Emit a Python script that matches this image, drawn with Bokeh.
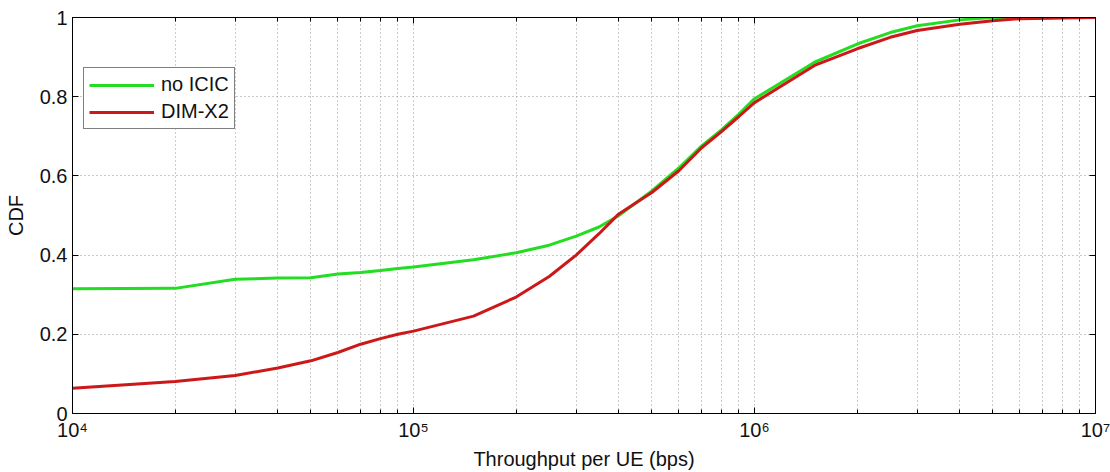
from bokeh.plotting import figure
from bokeh.models import (Range1d, FixedTicker, LinearAxis, LogAxis, Legend, LegendItem,
                          PrintfTickFormatter)
from bokeh.embed import file_html
from bokeh.resources import INLINE

# ---- data ----
noicic_x = [1e4, 2e4, 3e4, 4e4, 5e4, 6e4, 7e4, 8e4, 9e4, 1e5, 1.5e5, 2e5, 2.5e5, 3e5,
            3.5e5, 4e5, 5e5, 6e5, 7e5, 8e5, 9e5, 1e6, 1.5e6, 2e6, 2.5e6, 3e6, 4e6, 5e6, 1e7]
noicic_y = [0.315, 0.316, 0.339, 0.342, 0.343, 0.352, 0.356, 0.361, 0.366, 0.370, 0.388,
            0.406, 0.425, 0.448, 0.471, 0.500, 0.562, 0.620, 0.676, 0.716, 0.756, 0.795,
            0.887, 0.933, 0.962, 0.979, 0.994, 1.0, 1.0]

dimx2_x = [1e4, 2e4, 3e4, 4e4, 5e4, 6e4, 7e4, 8e4, 9e4, 1e5, 1.5e5, 2e5, 2.5e5, 3e5,
           3.5e5, 4e5, 5e5, 6e5, 7e5, 8e5, 9e5, 1e6, 1.5e6, 2e6, 2.5e6, 3e6, 4e6, 5e6,
           6e6, 1e7]
dimx2_y = [0.064, 0.081, 0.096, 0.115, 0.133, 0.154, 0.175, 0.189, 0.200, 0.208, 0.246,
           0.294, 0.346, 0.400, 0.454, 0.504, 0.558, 0.613, 0.671, 0.712, 0.750, 0.785,
           0.879, 0.921, 0.950, 0.967, 0.983, 0.992, 0.997, 1.0]

x_major = [1e4, 1e5, 1e6, 1e7]
x_major_labels = ["10\u2074", "10\u2075", "10\u2076", "10\u2077"]
x_minor = [m * d for d in (1e4, 1e5, 1e6) for m in range(2, 10)]
y_ticks = [0, 0.2, 0.4, 0.6, 0.8, 1]

series_names = ["no ICIC", "DIM-X2"]
series_colors = ["#22dd22", "#cc1818"]

FONT = "Liberation Sans"
FS = "20px"

p = figure(width=1110, height=472, x_axis_type="log", output_backend="svg",
           toolbar_location=None, x_range=Range1d(1e4, 1e7), y_range=Range1d(0, 1),
           min_border_left=72, min_border_right=15, min_border_top=17, min_border_bottom=57)
p.background_fill_color = "white"
p.border_fill_color = "white"
p.outline_line_color = "black"
p.outline_line_width = 1

xt = FixedTicker(ticks=x_major, minor_ticks=x_minor)
yt = FixedTicker(ticks=y_ticks, minor_ticks=[])

# bottom axis
xa = p.xaxis[0]
xa.ticker = xt
xa.major_label_overrides = {v: s for v, s in zip(x_major, x_major_labels)}
xa.axis_label = "Throughput per UE (bps)"
# left axis
ya = p.yaxis[0]
ya.ticker = yt
ya.formatter = PrintfTickFormatter(format="%g")
ya.axis_label = "CDF"

for ax in (xa, ya):
    ax.axis_line_color = "black"
    ax.major_tick_line_color = "black"
    ax.minor_tick_line_color = "black"
    ax.major_tick_in = 6
    ax.major_tick_out = 0
    ax.minor_tick_in = 4
    ax.minor_tick_out = 0
    ax.major_label_text_font = FONT
    ax.major_label_text_font_size = FS
    ax.major_label_text_color = "#111111"
    ax.axis_label_text_font = FONT
    ax.axis_label_text_font_size = FS
    ax.axis_label_text_font_style = "normal"
    ax.axis_label_text_color = "#111111"
xa.major_label_standoff = 5
xa.axis_label_standoff = 4
ya.major_label_standoff = 5
ya.axis_label_standoff = 10

# top and right axes (box ticks, no visible labels)
top = LogAxis(ticker=FixedTicker(ticks=x_major, minor_ticks=x_minor))
right = LinearAxis(ticker=FixedTicker(ticks=y_ticks, minor_ticks=[]))
for ax in (top, right):
    ax.axis_line_color = "black"
    ax.major_tick_line_color = "black"
    ax.minor_tick_line_color = "black"
    ax.major_tick_in = 6
    ax.major_tick_out = 0
    ax.minor_tick_in = 4
    ax.minor_tick_out = 0
    ax.major_label_text_font_size = "1px"
    ax.major_label_text_color = None
    ax.major_label_standoff = 0
p.add_layout(top, "above")
p.add_layout(right, "right")

# grids
p.xgrid.ticker = xt
p.ygrid.ticker = yt
for g in (p.xgrid[0], p.ygrid[0]):
    g.grid_line_color = "#999999"
    g.grid_line_dash = "1 3"
    g.grid_line_width = 1
p.xgrid.minor_grid_line_color = "#999999"
p.xgrid.minor_grid_line_dash = "1 3"
p.ygrid.minor_grid_line_color = None

r1 = p.line(noicic_x, noicic_y, line_color=series_colors[0], line_width=3)
r2 = p.line(dimx2_x, dimx2_y, line_color=series_colors[1], line_width=3)

legend = Legend(items=[LegendItem(label=series_names[0], renderers=[r1]),
                       LegendItem(label=series_names[1], renderers=[r2])],
                location=(11, 284), padding=5, spacing=4, margin=0,
                glyph_width=65, glyph_height=20, label_height=20, label_standoff=7,
                label_text_font=FONT, label_text_font_size=FS, label_text_color="#111111",
                border_line_color="black", border_line_width=1,
                background_fill_color="white", background_fill_alpha=1)
p.add_layout(legend, "center")

open("out.html", "w").write(file_html(p, INLINE))
